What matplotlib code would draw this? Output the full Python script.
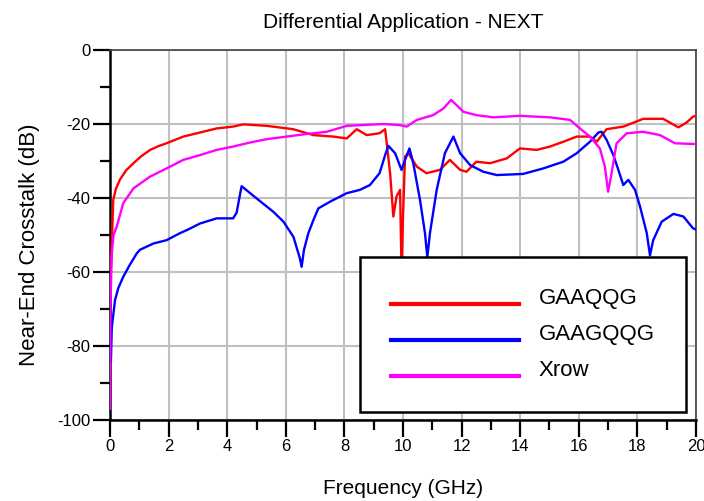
import numpy as np
import matplotlib
matplotlib.use("Agg")
import matplotlib.pyplot as plt
from matplotlib.ticker import MultipleLocator

plt.rcParams['font.family'] = ['Liberation Sans', 'DejaVu Sans']
plt.rcParams['axes.unicode_minus'] = False

# GAAQQG (red)
f_red = [0.0, 0.05, 0.11, 0.2, 0.34, 0.55, 0.8, 1.05, 1.37, 1.65, 1.93, 2.5, 3.07,
         3.64, 4.2, 4.55, 5.35, 6.25, 6.94, 7.62, 8.08, 8.42, 8.76, 9.2, 9.39,
         9.56, 9.67, 9.78, 9.9, 9.95, 10.0, 10.07, 10.18, 10.47, 10.8, 11.26,
         11.6, 11.95, 12.17, 12.5, 12.97, 13.54, 13.99, 14.56, 15.02, 15.47,
         15.93, 16.38, 16.61, 16.95, 17.52, 18.2, 18.88, 19.4, 19.68, 19.9, 20.0]
db_red = [-64, -55, -40.5, -37.5, -35, -32.5, -30.6, -28.8, -27, -26, -25.2, -23.4, -22.3,
          -21.2, -20.7, -20.1, -20.5, -21.4, -23, -23.4, -23.9, -21.4, -23, -22.5, -21.4,
          -33.3, -45, -39.6, -37.8, -60, -45, -28.8, -27.9, -31.5, -33.3, -32.4,
          -29.7, -32.4, -32.9, -30.2, -30.6, -29.3, -26.6, -27, -26.1, -24.8,
          -23.4, -23.4, -24.8, -21.4, -20.7, -18.6, -18.6, -20.9, -19.6, -18, -17.8]

# GAAGQQG (blue)
f_blue = [0.03, 0.06, 0.17, 0.28, 0.45, 0.68, 0.91, 1.02, 1.48, 1.93, 2.39, 2.67, 3.07,
          3.64, 4.2, 4.32, 4.49, 5.0, 5.57, 5.92, 6.26, 6.48, 6.54, 6.62, 6.77, 6.94,
          7.11, 7.51, 8.08, 8.53, 8.87, 9.2, 9.39, 9.5, 9.73, 9.95, 10.07, 10.22,
          10.35, 10.58, 10.75, 10.83, 10.92, 11.15, 11.43, 11.72, 11.95, 12.29,
          12.74, 13.2, 14.1, 14.79, 15.47, 15.93, 16.38, 16.67, 16.78, 16.95, 17.18,
          17.35, 17.52, 17.69, 17.92, 18.09, 18.32, 18.43, 18.54, 18.83, 19.23,
          19.57, 19.9, 20.0]
db_blue = [-84, -75, -67.6, -64.4, -61.3, -58, -55, -54, -52.3, -51.4, -49.5, -48.5, -46.9,
           -45.5, -45.5, -44, -36.8, -40.1, -43.7, -46.4, -50.5, -56.3, -58.6, -54, -49.5, -46,
           -42.8, -41, -38.7, -37.8, -36.5, -33.3, -28.4, -25.9, -27.9, -32.4, -29.7, -26.6,
           -30.6, -40.5, -49.5, -56, -49.5, -37.8, -27.9, -23.4, -27.9, -31.1,
           -32.9, -33.8, -33.5, -32, -30.2, -27.9, -24.8, -22.3, -22.1, -24.3, -28.4,
           -32.4, -36.5, -35.1, -37.8, -42.3, -49.5, -55.5, -51.4, -46.4, -44.3,
           -45, -48.2, -48.5]

# Xrow (magenta)
f_mag = [0.0, 0.01, 0.06, 0.12, 0.23, 0.45, 0.8, 1.37, 1.93, 2.5, 3.07, 3.64, 4.2, 4.78,
         5.35, 6.03, 6.71, 7.4, 8.08, 9.33, 9.9, 10.13, 10.47, 11.03, 11.38, 11.64,
         11.83, 12.06, 12.5, 13.08, 13.99, 15.02, 15.7, 16.04, 16.38, 16.72, 16.89,
         17.0, 17.12, 17.29, 17.64, 18.2, 18.77, 19.28, 19.9, 20.0]
db_mag = [-97, -70, -55, -50, -47.7, -41.4, -37.4, -34.2, -32, -29.7, -28.4, -27, -26.1, -25,
          -24.1, -23.4, -22.7, -22.1, -20.5, -20, -20.3, -20.7, -18.9, -17.6, -15.8, -13.5,
          -14.9, -16.7, -17.6, -18.2, -17.8, -18.2, -18.9, -21.2, -23.4, -26.6, -31.5,
          -38.3, -33.3, -25.2, -22.5, -22.1, -23, -25.2, -25.4, -25.4]

names = ['GAAQQG', 'GAAGQQG', 'Xrow']
colors = ['#ff0000', '#0000ff', '#ff00ff']

fig = plt.figure(figsize=(7.04, 5.01), dpi=100)
ax = fig.add_axes([0.1563, 0.1617, 0.8323, 0.7385])

for f, d, name, c in zip([f_red, f_blue, f_mag], [db_red, db_blue, db_mag], names, colors):
    ax.plot(f, d, color=c, lw=1.7, label=name, zorder=3)

ax.set_xlim(0, 20)
ax.set_ylim(-100, 0)
ax.xaxis.set_major_locator(MultipleLocator(2))
ax.xaxis.set_minor_locator(MultipleLocator(1))
ax.yaxis.set_major_locator(MultipleLocator(20))
ax.yaxis.set_minor_locator(MultipleLocator(10))
ax.grid(True, which='major', color='#c0c0c0', lw=1.5, zorder=0)
ax.tick_params(which='major', direction='out', length=12, width=1.6, labelsize=12, pad=2)
ax.tick_params(which='minor', direction='out', length=7, width=1.6)
for s in ['left', 'bottom']:
    ax.spines[s].set_linewidth(1.8)
    ax.spines[s].set_color('black')
for s in ['top', 'right']:
    ax.spines[s].set_linewidth(1.2)
    ax.spines[s].set_color('#404040')

ax.set_title('Differential Application - NEXT', fontsize=15, pad=16)
ax.set_xlabel('Frequency (GHz)', fontsize=15, labelpad=18)
ax.set_ylabel('Near-End Crosstalk (dB)', fontsize=16)
ax.yaxis.set_label_coords(-0.12, 0.473)

leg = ax.legend(loc='lower right', bbox_to_anchor=(0.983, 0.0216), fontsize=16,
                handlelength=5.77, handletextpad=0.9, borderpad=1.4, labelspacing=0.68,
                fancybox=False, framealpha=1, borderaxespad=0)
leg.get_frame().set_edgecolor('black')
leg.get_frame().set_linewidth(1.8)
# legend lines sit a little below their labels in the original
for line in leg.get_lines():
    line.set_linewidth(3)
    line.set_ydata([y - 6 for y in line.get_ydata()])

fig.savefig('out.png', dpi=100)
